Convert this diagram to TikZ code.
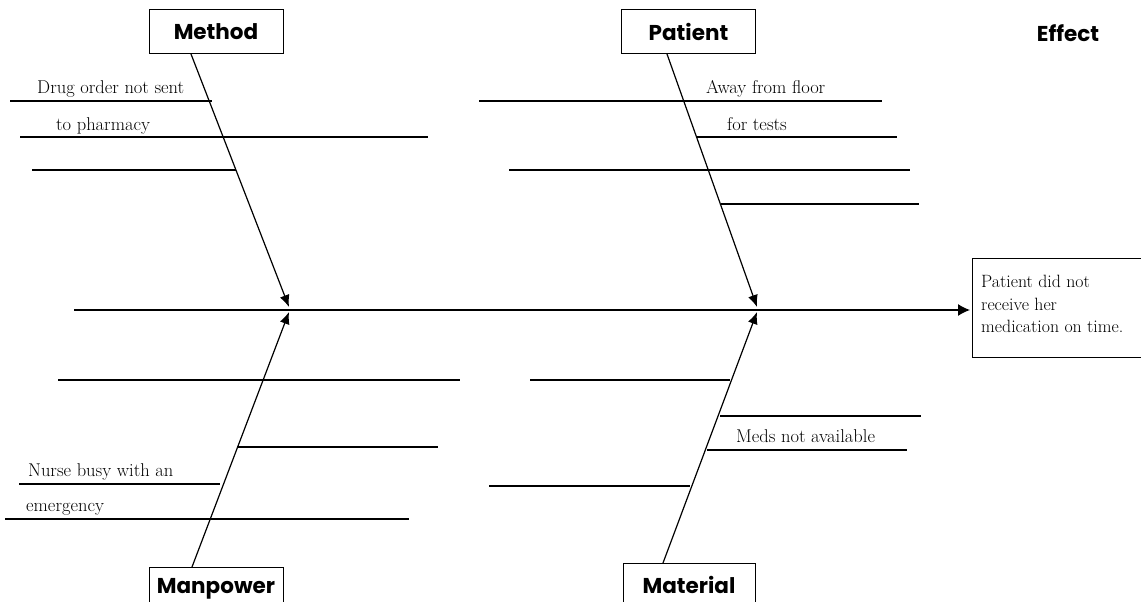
\documentclass[tikz,border=0pt]{standalone}
\usepackage{fontspec}
\usetikzlibrary{arrows.meta,calc}
\newfontfamily\headfont{Poppins}
\begin{document}
\begin{tikzpicture}[x=1pt,y=-1pt,
  bone/.style={line width=1.2pt},
  rib/.style={line width=1.1pt},
  tip/.style={-{Latex[length=12pt,width=10pt]}},
  bigtip/.style={-{Latex[length=12pt,width=12pt]}},
  catbox/.style={draw,line width=1pt,minimum width=134pt,minimum height=44pt,inner sep=0pt,
    font=\headfont\bfseries\fontsize{21.5}{24}\selectfont},
  note/.style={inner sep=0pt,anchor=base west,font=\fontsize{18.5}{22}\selectfont}]
\useasboundingbox (0,0) rectangle (1141,602);
\clip (0,0) rectangle (1141,602);

% category boxes
\node[catbox] (method) at (216,32) {Method};
\node[catbox] (patient) at (688.5,32) {Patient};
\node[catbox] (manpower) at (216,589) {Manpower};
\node[catbox,minimum width=132pt] (material) at (689,585) {Material};
\node[inner sep=0pt,font=\headfont\bfseries\fontsize{21.5}{24}\selectfont] (effect) at (1068,33) {Effect};

% effect box
\node[draw,line width=1pt,anchor=north west,minimum width=172pt,minimum height=99pt,
  inner sep=0pt] (result) at (972,258) {};
\node[inner sep=0pt,anchor=north west,align=left,font=\fontsize{17.8}{22.5}\selectfont]
  (resulttext) at (981,275) {Patient did not\\receive her\\medication on time.};

% spine
\coordinate (tail) at (74,310);
\coordinate (head) at (result.west |- tail);
\coordinate (j1) at (289,310);
\coordinate (j2) at (757,310);
\draw[bone,bigtip] (tail) -- ($(head)+(-2,0)$);

% bones
\coordinate (m0) at (191,54);
\coordinate (p0) at (667,54);
\coordinate (w0) at (192,567);
\coordinate (t0) at (663,563);
\draw[bone,tip] (m0) -- ($(j1)+(0,-3)$);
\draw[bone,tip] (p0) -- ($(j2)+(0,-3)$);
\draw[bone,tip] (w0) -- ($(j1)+(0,2)$);
\draw[bone,tip] (t0) -- ($(j2)+(0,2)$);

% Method ribs
\draw[rib] (10,101) -- (212,101);
\draw[rib] (20,137) -- (428,137);
\draw[rib] (32,170) -- (236,170);
\node[note] (m1) at (37,94) {Drug order not sent};
\node[note] (m2) at (56,130) {to pharmacy};

% Patient ribs
\draw[rib] (479,101) -- (882,101);
\draw[rib] (697,137) -- (897,137);
\draw[rib] (509,170) -- (910,170);
\draw[rib] (721,204) -- (919,204);
\node[note] (p1) at (706,94) {Away from floor};
\node[note] (p2) at (727,130) {for tests};

% Manpower ribs
\draw[rib] (58,380) -- (460,380);
\draw[rib] (237,447) -- (438,447);
\draw[rib] (19,484) -- (220,484);
\draw[rib] (5,519) -- (409,519);
\node[note] (w1) at (28,476) {Nurse busy with an};
\node[note] (w2) at (26,511) {emergency};

% Material ribs
\draw[rib] (530,380) -- (730,380);
\draw[rib] (720,416) -- (921,416);
\draw[rib] (707,450) -- (907,450);
\draw[rib] (489,486) -- (690,486);
\node[note] (t1) at (736,442) {Meds not available};
\end{tikzpicture}
\end{document}
